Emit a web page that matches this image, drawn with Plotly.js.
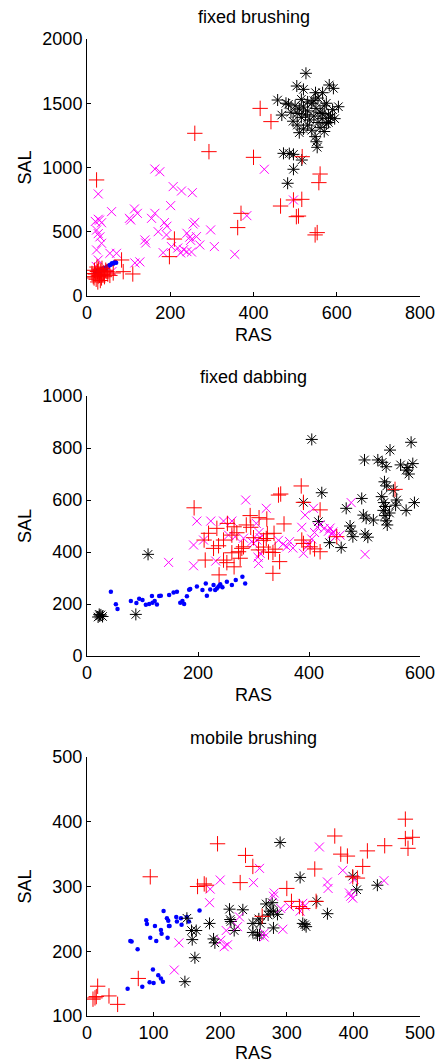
<!DOCTYPE html>
<html>
<head>
<meta charset="utf-8">
<script src="https://cdn.plot.ly/plotly-3.0.1.min.js"></script>
<style>html,body{margin:0;padding:0;background:#fff;}#chart{width:437px;height:1063px;}</style>
</head>
<body>
<div id="chart"></div>
<script>
// ---------- Panel titles & axis labels ----------
const panelTitles = ["fixed brushing", "fixed dabbing", "mobile brushing"];
const xLabel = "RAS";
const yLabel = "SAL";

// ---------- Panel 1: fixed brushing ----------
const fbBlackX = [526,504,520,582,592,549,566,458,478,484,604,468,510,548,551,553,472,486,496,516,496,482,
  500,510,520,530,540,550,560,570,580,590,505,515,525,535,545,555,565,575,585,495,505,520,530,540,560,570,580,545,530,490,575,555,515,595,565];
const fbBlackY = [1733,1634,1608,1642,1616,1582,1582,1525,1500,1492,1473,1408,1271,1240,1200,1157,1110,1108,1102,1058,986,877,
  1480,1455,1470,1440,1500,1460,1430,1480,1410,1450,1420,1390,1410,1370,1400,1350,1380,1340,1390,1360,1330,1300,1330,1290,1310,1280,1350,1520,1510,1430,1500,1540,1530,1380,1420];
const fbRedX = [23,259,293,400,416,442,370,362,210,198,83,87,110,63,26,517,560,557,516,496,465,508,503,548,553,
  15,20,25,30,35,18,28,40,45,22,32,38,12,27,42,48,17,33,24,36,50,55];
const fbRedY = [903,1266,1123,1079,1460,1357,643,532,443,306,280,189,171,179,109,1084,949,882,752,747,700,622,617,475,493,
  150,170,190,160,140,200,210,180,200,130,120,165,175,155,150,190,140,195,225,215,170,160];
const fbMagX = [163,175,27,207,227,253,201,59,114,121,163,155,102,105,27,20,30,35,23,27,31,35,23,27,171,186,192,191,139,141,203,218,225,232,240,183,240,247,249,259,255,263,271,251,297,306,355,384,115,127,55,71,426,496,22,60];
const fbMagY = [988,967,794,851,817,804,703,656,677,643,643,604,604,591,597,580,590,570,513,485,460,410,358,280,500,571,543,475,436,412,384,373,335,360,345,337,488,458,433,573,560,462,397,342,514,384,324,625,257,265,332,332,986,747,230,190];
const fbBlueX = [20,24,28,32,36,40,44,48,52,55,58,60,63,66,68,70,45,38,30,50];
const fbBlueY = [185,195,200,205,210,215,220,228,235,240,245,255,250,260,265,258,210,200,190,222];

// ---------- Panel 2: fixed dabbing ----------
const fdBlackX = [23,20,25,28,22,88,110,405,584,546,500,524,532,539,565,575,580,587,578,536,540,552,423,390,495,467,531,535,538,534,537,539,541,558,556,545,575,590,498,503,516,417,474,476,479,501,506,437,458];
const fdBlackY = [154,150,158,152,160,160,391,833,822,792,754,754,745,728,735,715,700,740,725,670,654,638,628,591,606,568,613,590,575,560,540,520,504,600,580,550,560,590,542,530,523,517,500,480,459,469,457,436,417];
const fdRedX = [193,211,219,213,234,238,228,237,246,253,265,270,261,246,252,261,273,279,276,265,287,295,282,309,294,310,324,355,386,345,349,390,420,387,390,402,420,410,450,347,335,555,325,318,300,318,323,337,339,335,327];
const fdRedY = [570,446,472,369,491,312,414,424,446,510,497,474,465,369,359,397,401,414,376,343,504,495,420,408,540,532,527,508,654,619,623,591,562,446,433,420,401,412,459,363,318,641,470,445,455,419,452,472,411,398,400];
const fdMagX = [147,192,192,198,223,246,261,286,210,232,255,267,282,297,300,306,309,323,408,393,476,501,305,310,312,308,312,345,353,360,365,371,387,390,400,405,410,415,420,427,435,442,448,398,438,443,456];
const fdMagY = [360,427,347,519,519,519,519,600,446,365,465,459,453,440,433,446,356,568,568,542,590,391,510,475,455,380,395,445,430,420,440,415,495,395,430,450,475,495,505,490,480,470,460,425,492,477,465];
const fdBlueX = [43,52,55,79,89,94,100,106,112,118,122,126,117,130,133,148,156,162,168,172,175,180,184,186,198,208,214,216,222,228,231,234,237,240,244,252,261,268,280,285];
const fdBlueY = [247,199,181,212,204,220,215,197,200,205,212,198,231,231,232,235,244,247,205,212,200,230,255,258,267,254,279,232,256,273,254,260,267,276,264,286,273,292,305,279];

// ---------- Panel 3: mobile brushing ----------
const mbBlackX = [150,147,162,157,164,158,184,190,192,214,215,216,234,221,249,259,258,290,320,399,405,436,345,361,324,329,327,269,278,275,272,286,280,260,280,249,256];
const mbBlackY = [251,153,190,232,232,218,243,219,213,265,249,246,264,232,243,225,250,368,314,316,295,302,277,258,243,238,241,273,275,262,256,257,262,243,236,229,225];
const mbRedX = [16,9,12,14,33,46,77,95,196,166,176,179,238,249,230,478,478,489,482,372,381,391,421,447,414,342,300,307,319,324,344,263,399,406];
const mbRedY = [146,126,128,130,131,118,158,315,366,300,304,302,348,331,306,404,374,376,359,378,350,347,355,363,331,327,297,277,269,266,277,254,315,313];
const mbMagX = [131,138,184,185,200,250,259,201,206,211,209,226,229,349,384,361,362,446,394,396,399,401,281,280,291,304,320,324,327,294,266,266];
const mbMagY = [171,213,275,296,310,306,328,217,207,210,232,238,253,361,325,307,297,309,290,285,282,311,290,285,266,269,262,274,270,234,228,222];
const mbBlueX = [61,83,94,100,99,107,114,111,65,67,76,89,90,95,104,102,111,112,121,115,120,122,123,124,134,135,141,142,150,153,169];
const mbBlueY = [142,145,152,151,172,163,153,158,216,215,203,248,242,221,216,239,233,227,221,262,251,247,239,239,253,246,251,241,253,246,263];

// ---------- styles ----------
const sty = {
  blue:  {symbol: "circle", size: 4.5, color: "#0000ff", line: {width: 0}},
  black: {symbol: "asterisk-open", size: 10, color: "#000000", line: {width: 1, color: "#000000"}},
  mag:   {symbol: "x-thin-open", size: 9, color: "#ff00ff", line: {width: 1, color: "#ff00ff"}},
  red:   {symbol: "cross-thin-open", size: 11, color: "#ff0000", line: {width: 1, color: "#ff0000"}}
};
function tr(x, y, s, ax) {
  return {x: x, y: y, type: "scatter", mode: "markers", marker: sty[s],
          xaxis: "x" + ax, yaxis: "y" + ax, showlegend: false, hoverinfo: "x+y"};
}
const data = [
  tr(fbBlueX, fbBlueY, "blue", ""), tr(fbBlackX, fbBlackY, "black", ""), tr(fbMagX, fbMagY, "mag", ""), tr(fbRedX, fbRedY, "red", ""),
  tr(fdBlueX, fdBlueY, "blue", "2"), tr(fdBlackX, fdBlackY, "black", "2"), tr(fdMagX, fdMagY, "mag", "2"), tr(fdRedX, fdRedY, "red", "2"),
  tr(mbBlueX, mbBlueY, "blue", "3"), tr(mbBlackX, mbBlackY, "black", "3"), tr(mbMagX, mbMagY, "mag", "3"), tr(mbRedX, mbRedY, "red", "3")
];

const font = {family: "Liberation Sans, Arial, Helvetica, sans-serif", size: 18, color: "#000"};
function xa(range, dtick, anchor, standoff) {
  return {range: range, dtick: dtick, tick0: 0, anchor: anchor, domain: [0, 1],
    showline: true, linecolor: "#000", linewidth: 1, ticks: "inside", ticklen: 4, tickcolor: "#000",
    showgrid: false, zeroline: false, tickformat: "d", tickfont: font,
    title: {text: xLabel, font: font, standoff: standoff}};
}
function ya(range, dtick, tick0, domain, anchor, standoff) {
  return {range: range, dtick: dtick, tick0: tick0, anchor: anchor, domain: domain,
    showline: true, linecolor: "#000", linewidth: 1, ticks: "inside", ticklen: 4, tickcolor: "#000",
    showgrid: false, zeroline: false, tickformat: "d", tickfont: font,
    title: {text: yLabel, font: font, standoff: standoff}};
}
const layout = {
  width: 437, height: 1063,
  margin: {l: 87, r: 17, t: 39, b: 47},
  paper_bgcolor: "#fff", plot_bgcolor: "#fff",
  font: font,
  xaxis:  xa([0, 800], 200, "y", 6),
  yaxis:  ya([0, 2000], 500, 0, [0.7370, 1], "x", 6),
  xaxis2: xa([0, 600], 200, "y2", 6),
  yaxis2: ya([0, 1000], 200, 0, [0.36847, 0.63459], "x2", 6),
  xaxis3: xa([0, 500], 100, "y3", 3),
  yaxis3: ya([100, 500], 100, 100, [0, 0.26510], "x3", 16),
  annotations: [
    {text: panelTitles[0], xref: "paper", yref: "paper", x: 0.5, y: (1016 - 17) / 977, xanchor: "center", yanchor: "middle", showarrow: false, font: font},
    {text: panelTitles[1], xref: "paper", yref: "paper", x: 0.5, y: (1016 - 377) / 977, xanchor: "center", yanchor: "middle", showarrow: false, font: font},
    {text: panelTitles[2], xref: "paper", yref: "paper", x: 0.5, y: (1016 - 738) / 977, xanchor: "center", yanchor: "middle", showarrow: false, font: font}
  ]
};
Plotly.newPlot("chart", data, layout, {displayModeBar: false, staticPlot: true});
</script>
</body>
</html>
